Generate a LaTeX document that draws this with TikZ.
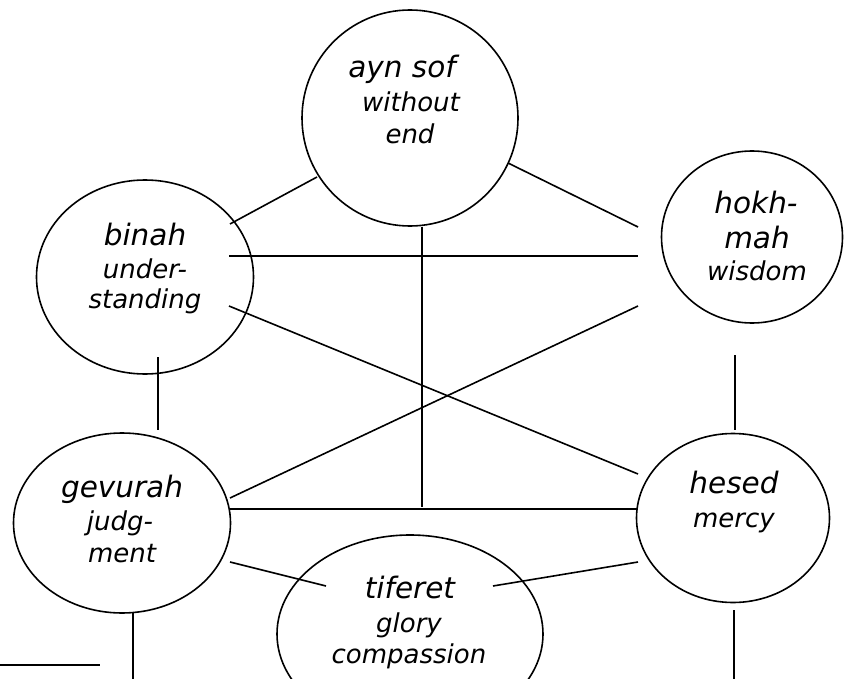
\documentclass[tikz,border=0pt]{standalone}
\usepackage{fontspec}
\setmainfont{DejaVu Sans}
\usetikzlibrary{shapes.geometric}
\begin{document}
\begin{tikzpicture}[x=1pt,y=-1pt,line width=1.6pt,
  sefira/.style={ellipse, draw, inner sep=0pt, line width=1.6pt},
  mainlbl/.style={anchor=base, inner sep=0pt, font=\fontsize{29.5}{29.5}\selectfont\itshape},
  sublbl/.style={anchor=base, inner sep=0pt, font=\fontsize{26}{26}\selectfont\itshape},
  conn/.style={line width=1.6pt}]
\useasboundingbox (0,0) rectangle (845,679);
\clip (0,0) rectangle (845,679);
% circles
\node[sefira, minimum width=216pt, minimum height=216pt] (aynsof) at (410,118) {};
\node[sefira, minimum width=217pt, minimum height=194pt] (binah) at (145,277) {};
\node[sefira, minimum width=181pt, minimum height=172pt] (hokhmah) at (752,237) {};
\node[sefira, minimum width=217pt, minimum height=180pt] (gevurah) at (122,523) {};
\node[sefira, minimum width=193pt, minimum height=169pt] (hesed) at (733,518) {};
\node[sefira, minimum width=266pt, minimum height=198pt] (tiferet) at (410,634) {};
% labels
\node[mainlbl] (t1) at (402,78) {ayn sof};
\node[sublbl] (t2) at (411,112) {without};
\node[sublbl] (t3) at (410,144) {end};
\node[mainlbl] (t4) at (145,245) {binah};
\node[sublbl] (t5) at (145,278) {under-};
\node[sublbl] (t6) at (145,308) {standing};
\node[mainlbl] (t7) at (756,213) {hokh-};
\node[mainlbl] (t8) at (757,248) {mah};
\node[sublbl] (t9) at (757,280) {wisdom};
\node[mainlbl] (t10) at (122,497) {gevurah};
\node[sublbl] (t11) at (120,530) {judg-};
\node[sublbl] (t12) at (122,562) {ment};
\node[mainlbl] (t13) at (734,493) {hesed};
\node[sublbl] (t14) at (734,527) {mercy};
\node[mainlbl] (t15) at (410,598) {tiferet};
\node[sublbl] (t16) at (409,632) {glory};
\node[sublbl] (t17) at (409,663) {compassion};
% connector end points
\coordinate (a1) at (317,177); \coordinate (b1) at (230,224);
\coordinate (a2) at (508,163); \coordinate (h1) at (638,227);
\coordinate (b2) at (229,256); \coordinate (h2) at (638,256);
\coordinate (b3) at (229,306); \coordinate (e1) at (638,474);
\coordinate (h3) at (638,306); \coordinate (g1) at (230,498);
\coordinate (b4) at (158,357); \coordinate (g2) at (158,430);
\coordinate (h4) at (735,355); \coordinate (e2) at (735,430);
\coordinate (a3) at (422,227); \coordinate (m1) at (422,507);
\coordinate (g3) at (230,509); \coordinate (e3) at (637,509);
\coordinate (g4) at (230,562); \coordinate (f1) at (326,586);
\coordinate (e4) at (638,562); \coordinate (f2) at (493,586);
\coordinate (g5) at (133,612); \coordinate (g6) at (133,690);
\coordinate (e5) at (734,610); \coordinate (e6) at (734,690);
\coordinate (l1) at (0,665); \coordinate (l2) at (100,665);
% connectors
\draw[conn] (a1) -- (b1);
\draw[conn] (a2) -- (h1);
\draw[conn] (b2) -- (h2);
\draw[conn] (b3) -- (e1);
\draw[conn] (h3) -- (g1);
\draw[conn] (b4) -- (g2);
\draw[conn] (h4) -- (e2);
\draw[conn] (a3) -- (m1);
\draw[conn] (g3) -- (e3);
\draw[conn] (g4) -- (f1);
\draw[conn] (e4) -- (f2);
\draw[conn] (g5) -- (g6);
\draw[conn] (e5) -- (e6);
\draw[conn] (l1) -- (l2);
\end{tikzpicture}
\end{document}
